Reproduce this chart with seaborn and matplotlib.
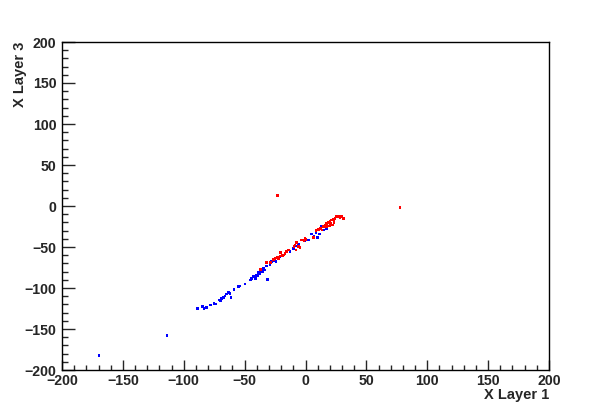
import numpy as np
import pandas as pd
import matplotlib
matplotlib.use("Agg")
import matplotlib.pyplot as plt
import seaborn as sns
from matplotlib.ticker import MultipleLocator

blue_x = [-169.6, -113.8, -88.9, -84.4, -83.4, -81.2, -77.9, -75.2, -73.5, -70.8, -69.7, -68.8,
          -67.5, -66.1, -64.7, -63.4, -62.0, -61.2, -58.7, -55.2, -54.4, -49.7, -45.0, -44.2,
          -42.9, -40.9, -40.1, -38.8, -37.4, -36.0, -34.7, -33.3, -31.0, -31.9, -29.2, -27.8,
          -26.4, -24.2, -20.9, -16.8, -12.7, -10.0, -7.2, -5.9, -0.4, 2.3, 5.1, 7.0, 8.6,
          9.7, 11.3, 10.5, 11.9, 13.3, 14.6, 15.2, 17.4, -41.5, -39.5, -35.5]
blue_y = [-182.6, -158.0, -125.2, -122.8, -124.8, -124.0, -120.7, -118.7, -119.5, -114.6, -115.5, -113.0,
          -111.3, -109.8, -107.3, -105.7, -106.5, -111.3, -101.6, -98.4, -97.6, -95.1, -90.2, -88.2,
          -86.2, -88.2, -84.1, -81.3, -82.1, -78.9, -76.0, -78.0, -89.4, -73.2, -72.0, -67.9,
          -66.7, -67.9, -61.8, -58.5, -55.7, -51.6, -48.8, -46.3, -42.3, -41.5, -34.1, -37.4, -32.5,
          -38.2, -34.1, -28.4, -27.2, -25.2, -24.4, -29.3, -27.2, -86.5, -85.0, -80.0]

red_x = [-23.2, 77.6, -36.8, -31.9, -28.6, -26.4, -25.1, -23.2, -20.9, -20.4, -18.2, -16.8,
         -15.4, -14.1, -9.4, -8.6, -7.2, -5.9, -4.5, -7.8, -3.1, -1.2, -0.4, 0.4, 6.4,
         8.6, 10.5, 12.5, 14.6, 16.0, 17.4, 18.7, 20.1, 21.5, 22.8, 24.2, 25.6, 26.9,
         28.3, 29.7, 31.0, 22.3, 23.4, 19.5, 20.5, 17.4, 13.5, -22.0, -19.0]
red_y = [12.6, -2.0, -77.2, -69.1, -69.1, -65.0, -63.8, -62.6, -61.0, -56.9, -59.8, -57.7,
         -55.7, -53.7, -49.6, -47.6, -44.7, -49.6, -50.4, -53.7, -41.5, -42.3, -39.4, -40.6, -38.2,
         -30.1, -28.4, -27.2, -25.2, -23.2, -21.1, -20.4, -19.1, -17.1, -16.2, -15.0, -13.0, -13.0,
         -13.8, -13.0, -15.0, -23.2, -20.4, -24.4, -21.5, -25.2, -29.3, -64.0, -60.0]

df = pd.DataFrame({
    "x": blue_x + red_x,
    "y": blue_y + red_y,
    "set": ["blue"] * len(blue_x) + ["red"] * len(red_x),
})

sns.set_style("white")
plt.rcParams["font.family"] = ["Liberation Sans", "DejaVu Sans"]
plt.rcParams["font.weight"] = "bold"

fig = plt.figure(figsize=(6.12, 4.12), dpi=100)
ax = fig.add_axes([62/612, 1-370/412, (549-62)/612, (370-42)/412])

sns.scatterplot(data=df, x="x", y="y", hue="set", palette={"blue": "#0000ff", "red": "#ff0000"},
                marker="s", s=4, linewidth=0, legend=False, ax=ax)

ax.set_xlim(-200, 200)
ax.set_ylim(-200, 200)
ax.xaxis.set_major_locator(MultipleLocator(50))
ax.xaxis.set_minor_locator(MultipleLocator(10))
ax.yaxis.set_major_locator(MultipleLocator(50))
ax.yaxis.set_minor_locator(MultipleLocator(10))
ax.tick_params(axis="x", which="major", direction="in", length=7, width=1, top=False, bottom=True,
               labelsize=10.2, pad=3)
ax.tick_params(axis="x", which="minor", direction="in", length=3.6, width=1, top=False, bottom=True)
ax.tick_params(axis="y", which="major", direction="in", length=9, width=1, right=False, left=True,
               labelsize=10.2, pad=4)
ax.tick_params(axis="y", which="minor", direction="in", length=4.5, width=1, right=False, left=True)
for lab in ax.get_xticklabels() + ax.get_yticklabels():
    lab.set_fontweight("bold")
for sp in ax.spines.values():
    sp.set_color("black")
    sp.set_linewidth(1)

ax.set_xlabel("X Layer 1", fontsize=10.5, fontweight="bold", loc="right")
ax.set_ylabel("X Layer 3", fontsize=10.5, fontweight="bold", loc="top")
ax.xaxis.set_label_coords(1.0, -0.055)
ax.yaxis.set_label_coords(-0.072, 1.0)

fig.savefig("out.png", dpi=100)
